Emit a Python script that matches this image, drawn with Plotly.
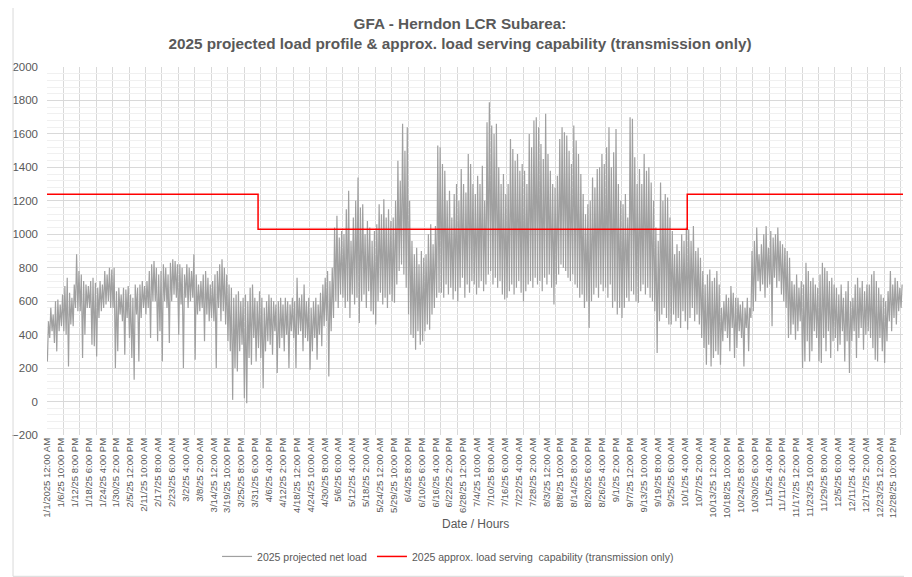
import plotly.graph_objects as go

# x-axis category labels, one every 142 hourly rows
tick_labels = [
    "1/1/2025 12:00 AM", "1/6/25 10:00 PM", "1/12/25 8:00 PM", "1/18/25 6:00 PM",
    "1/24/25 4:00 PM", "1/30/25 2:00 PM", "2/5/25 12:00 PM", "2/11/25 10:00 AM",
    "2/17/25 8:00 AM", "2/23/25 6:00 AM", "3/2/25 4:00 AM", "3/8/25 2:00 AM",
    "3/14/25 12:00 AM", "3/19/25 10:00 PM", "3/25/25 8:00 PM", "3/31/25 6:00 PM",
    "4/6/25 4:00 PM", "4/12/25 2:00 PM", "4/18/25 12:00 PM", "4/24/25 10:00 AM",
    "4/30/25 8:00 AM", "5/6/25 6:00 AM", "5/12/25 4:00 AM", "5/18/25 2:00 AM",
    "5/24/25 12:00 AM", "5/29/25 10:00 PM", "6/4/25 8:00 PM", "6/10/25 6:00 PM",
    "6/16/25 4:00 PM", "6/22/25 2:00 PM", "6/28/25 12:00 PM", "7/4/25 10:00 AM",
    "7/10/25 8:00 AM", "7/16/25 6:00 AM", "7/22/25 4:00 AM", "7/28/25 2:00 AM",
    "8/3/25 12:00 AM", "8/8/25 10:00 PM", "8/14/25 8:00 PM", "8/20/25 6:00 PM",
    "8/26/25 4:00 PM", "9/1/25 2:00 PM", "9/7/25 12:00 PM", "9/13/25 10:00 AM",
    "9/19/25 8:00 AM", "9/25/25 6:00 AM", "10/1/25 4:00 AM", "10/7/25 2:00 AM",
    "10/13/25 12:00 AM", "10/18/25 10:00 PM", "10/24/25 8:00 PM", "10/30/25 6:00 PM",
    "11/5/25 4:00 PM", "11/11/25 2:00 PM", "11/17/25 12:00 PM", "11/23/25 10:00 AM",
    "11/29/25 8:00 AM", "12/5/25 6:00 AM", "12/11/25 4:00 AM", "12/17/25 2:00 AM",
    "12/23/25 12:00 AM", "12/28/25 10:00 PM",
]

# daily peak of the projected net load (MW), one row per week
daily_high = [
    480, 560, 520, 600, 610, 580, 640,
    690, 740, 650, 620, 700, 880, 780,
    760, 720, 700, 690, 720, 740, 710,
    680, 720, 700, 780, 760, 800, 790,
    800, 660, 680, 640, 680, 670, 690,
    640, 620, 700, 680, 700, 720, 690,
    720, 780, 820, 840, 800, 760, 780,
    820, 800, 760, 830, 850, 840, 820,
    820, 800, 760, 820, 800, 780, 880,
    760, 700, 720, 760, 780, 740, 700,
    720, 760, 780, 820, 850, 800, 760,
    700, 680, 620, 640, 660, 600, 620,
    640, 600, 680, 700, 620, 600, 660,
    620, 560, 600, 640, 620, 600, 580,
    600, 620, 580, 620, 600, 580, 620,
    600, 740, 620, 640, 700, 600, 620,
    560, 600, 620, 580, 650, 700, 740,
    780, 720, 800, 1040, 1110, 980, 1020,
    1000, 1150, 1260, 960, 1100, 1200, 1340,
    1160, 1180, 1000, 1080, 1040, 960, 1020,
    1060, 1180, 1120, 1210, 1100, 1150, 1080,
    1100, 1200, 1440, 1320, 1660, 1500, 1640,
    1200, 960, 880, 920, 820, 900, 860,
    880, 1000, 1060, 940, 1050, 1530, 1520,
    1420, 1380, 1200, 1260, 1100, 1240, 1300,
    1200, 1390, 1300, 1250, 1480, 1420, 1300,
    1240, 1350, 1300, 1410, 1200, 1670, 1790,
    1650, 1600, 1660, 1400, 1300, 1360, 1240,
    1300, 1570, 1510, 1440, 1480, 1380, 1420,
    1380, 1300, 1600, 1520, 1680, 1700, 1640,
    1540, 1450, 1720, 1480, 1380, 1300, 1280,
    1350, 1570, 1640, 1610, 1590, 1500, 1420,
    1650, 1560, 1480, 1360, 1240, 1120, 1180,
    1200, 1340, 1280, 1390, 1400, 1480, 1420,
    1520, 1640, 1400, 1490, 1630, 1300, 1200,
    1180, 1240, 1100, 1700, 1690, 1460, 1300,
    1390, 1300, 1480, 1380, 1400, 1310, 1200,
    1040, 960, 1310, 1200, 1240, 1220, 1100,
    1020, 880, 940, 900, 1000, 960, 1040,
    1030, 960, 1050, 900, 920, 860, 780,
    700, 760, 790, 720, 740, 780, 700,
    560, 600, 640, 620, 690, 650, 620,
    620, 580, 600, 560, 620, 560, 900,
    960, 1040, 880, 940, 1000, 1050, 920,
    1020, 980, 1000, 1040, 960, 940, 920,
    900, 860, 720, 700, 760, 680, 720,
    700, 830, 780, 720, 740, 700, 680,
    760, 830, 800, 780, 720, 740, 700,
    680, 640, 700, 620, 660, 720, 600,
    620, 700, 740, 680, 720, 660, 700,
    700, 760, 780, 720, 680, 640, 620,
    600, 660, 780, 700, 740, 720, 680,
    700,
]

# daily trough of the projected net load (MW)
daily_low = [
    240, 380, 420, 350, 300, 420, 450,
    420, 400, 210, 460, 450, 560, 540,
    540, 260, 400, 560, 560, 340, 330,
    270, 500, 540, 560, 580, 600, 560,
    560, 200, 300, 520, 480, 280, 500,
    380, 260, 130, 520, 240, 500, 560,
    520, 560, 380, 600, 600, 360, 420,
    240, 600, 560, 350, 600, 640, 620,
    400, 580, 200, 620, 560, 600, 620,
    250, 520, 540, 560, 360, 520, 480,
    500, 480, 200, 560, 480, 540, 460,
    360, 300, 10, 200, 180, 300, 340,
    20, -10, 260, 220, 380, 240, 320,
    260, 80, 300, 360, 340, 280, 420,
    170, 320, 380, 300, 400, 200, 420,
    380, 200, 400, 420, 300, 380, 360,
    190, 300, 380, 250, 400, 330, 450,
    480, 150, 420, 500, 600, 560, 640,
    620, 560, 600, 500, 640, 580, 620,
    470, 600, 640, 560, 660, 540, 520,
    460, 600, 650, 580, 620, 560, 640,
    600, 590, 700, 780, 820, 760, 680,
    520, 400, 380, 310, 420, 340, 360,
    420, 460, 430, 520, 560, 620, 650,
    650, 620, 700, 640, 680, 610, 660,
    600, 680, 740, 620, 700, 650, 720,
    700, 640, 680, 720, 660, 700, 760,
    780, 700, 740, 680, 720, 640, 610,
    620, 660, 700, 640, 680, 720, 650,
    600, 660, 700, 720, 680, 740, 700,
    720, 660, 740, 700, 760, 680, 580,
    700, 760, 820, 800, 780, 740, 720,
    760, 700, 680, 620, 640, 560, 600,
    440, 600, 640, 680, 620, 700, 660,
    680, 620, 700, 560, 600, 520, 560,
    500, 560, 620, 600, 660, 640, 600,
    590, 660, 700, 640, 680, 620, 600,
    540, 290, 480, 520, 560, 500, 460,
    460, 520, 480, 500, 440, 540, 480,
    430, 500, 560, 480, 520, 460, 380,
    320, 220, 340, 210, 260, 300, 280,
    220, 360, 420, 380, 300, 440, 260,
    320, 420, 380, 210, 440, 300, 500,
    540, 600, 720, 660, 700, 620, 680,
    700, 450, 740, 680, 720, 640, 600,
    560, 380, 400, 460, 370, 420, 480,
    200, 240, 360, 240, 300, 420, 380,
    240, 230, 380, 300, 420, 260, 360,
    380, 300, 340, 420, 240, 360, 170,
    360, 420, 260, 380, 440, 310, 400,
    420, 380, 320, 250, 240, 380, 300,
    230, 360, 480, 420, 500, 460, 540,
    560,
]

# transmission-only load serving capability (MW) and the day-of-year each level starts
cap_levels = [1240, 1030, 1240]
cap_start_days = [0, 90, 273]

HOURS = 8760
TICK_STEP = 142   # Excel label interval (rows)
GRID_STEP = 168   # Excel tick-mark / gridline interval (rows)
TEXT = "#595959"
FONT = "Liberation Sans, Arial, sans-serif"

# each day contributes its overnight trough and afternoon peak as hourly rows
hours, load = [], []
for day, (lo, hi) in enumerate(zip(daily_low, daily_high)):
    hours += [day * 24 + 4, day * 24 + 15]
    load += [lo, hi]

cap_x = [d * 24 for d in cap_start_days] + [HOURS]
cap_y = cap_levels + [cap_levels[-1]]

fig = go.Figure()
fig.add_trace(go.Scatter(
    x=hours, y=load, mode="lines", name="2025 projected net load",
    line={"color": "#a0a0a0", "width": 1.2},
))
fig.add_trace(go.Scatter(
    x=cap_x, y=cap_y, mode="lines", line_shape="hv",
    name="2025 approx. load serving  capability (transmission only)",
    line={"color": "#ff0000", "width": 1.5},
))

# the page body adds an 8px margin, so the figure is sized to the window minus that
fig.update_layout(
    width=904, height=569,
    margin={"l": 39, "r": 9, "t": 59, "b": 142, "autoexpand": False},
    paper_bgcolor="white", plot_bgcolor="white",
    font={"family": FONT, "color": TEXT, "size": 11},
    title={
        "text": "GFA - Herndon LCR Subarea:<br>2025 projected load profile & approx. load serving capability (transmission only)",
        "x": 0.5, "xanchor": "center", "xref": "container",
        "y": 0.963, "yanchor": "top", "yref": "container",
        "font": {"family": FONT, "size": 15.3, "color": TEXT, "weight": "bold"},
    },
    showlegend=True,
    legend={
        "orientation": "h", "x": 0.4685, "xanchor": "center",
        "y": -0.33, "yanchor": "middle",
        "font": {"size": 10.5, "color": TEXT}, "itemwidth": 30,
    },
    xaxis={
        "range": [0, HOURS],
        "automargin": False,
        "tickmode": "array",
        "tickvals": [i * TICK_STEP for i in range(len(tick_labels))],
        "ticktext": tick_labels,
        "tickangle": -90,
        "tickfont": {"size": 9.5, "color": TEXT},
        "ticks": "",
        "showgrid": False, "zeroline": False, "showline": False,
        "minor": {
            "tickmode": "array",
            "tickvals": list(range(0, HOURS + 1, GRID_STEP)),
            "showgrid": True, "gridcolor": "#d9d9d9", "gridwidth": 1,
        },
    },
    yaxis={
        "range": [-200, 2000], "dtick": 200, "tick0": 0,
        "automargin": False,
        "ticklabelstandoff": 8,
        "tickfont": {"size": 11.5, "color": TEXT},
        "gridcolor": "#d9d9d9", "gridwidth": 1,
        "zeroline": False, "showline": False, "ticks": "",
        "minor": {"dtick": 40, "showgrid": True, "gridcolor": "#f0f0f0", "gridwidth": 1},
    },
    annotations=[{
        "text": "Date / Hours", "xref": "paper", "yref": "paper",
        "x": 0.5, "y": -0.242, "xanchor": "center", "yanchor": "middle",
        "showarrow": False, "font": {"size": 12, "color": TEXT},
    }],
    shapes=[
        # chart-area border of the original spreadsheet chart
        {"type": "line", "xref": "paper", "yref": "paper",
         "x0": -0.0397, "x1": 1.02, "y0": 1.18, "y1": 1.18,
         "line": {"color": "#a6a6a6", "width": 1}},
        {"type": "line", "xref": "paper", "yref": "paper",
         "x0": -0.0397, "x1": -0.0397, "y0": 1.18, "y1": -0.384,
         "line": {"color": "#d9d9d9", "width": 1}},
        {"type": "line", "xref": "paper", "yref": "paper",
         "x0": -0.0397, "x1": 1.02, "y0": -0.384, "y1": -0.384,
         "line": {"color": "#d9d9d9", "width": 1}},
    ],
)

fig.write_html("out.html")
